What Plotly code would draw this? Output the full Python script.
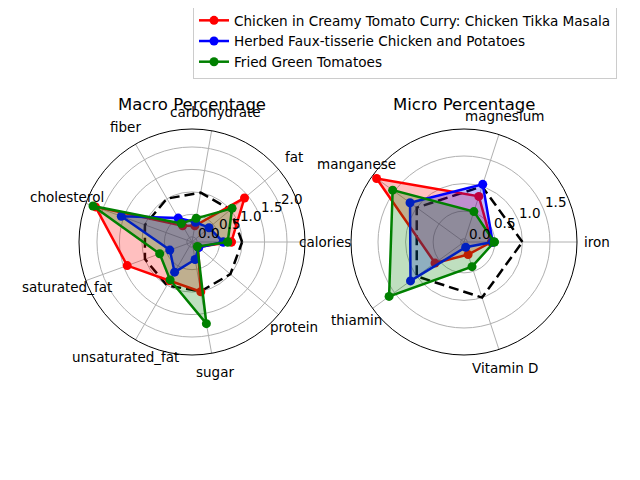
import math
import plotly.graph_objects as go

# ---- data ----
macro_categories = ["calories", "fat", "carbohydrate", "fiber", "cholesterol",
                    "saturated_fat", "unsaturated_fat", "sugar", "protein"]
micro_categories = ["iron", "magnesium", "manganese", "thiamin", "Vitamin D"]

recipe_names = ["Chicken in Creamy Tomato Curry: Chicken Tikka Masala",
                "Herbed Faux-tisserie Chicken and Potatoes",
                "Fried Green Tomatoes"]

macro_tikka = [0.76, 1.41, 0.25, 0.30, 2.17, 1.42, 0.88, 1.01, 0.06]
macro_herbed = [0.58, 0.38, 0.33, 0.50, 1.56, 0.41, 0.66, 0.28, 0.08]
macro_fried = [0.68, 1.05, 0.42, 0.36, 2.23, 0.65, 0.86, 1.73, 0.04]
macro_reference = [1.0] * 9

micro_tikka = [0.44, 0.81, 1.90, 0.59, 0.18]
micro_herbed = [0.46, 1.04, 1.15, 1.14, 0.04]
micro_fried = [0.49, 0.52, 1.54, 1.62, 0.41]
micro_reference = [1.0] * 5

macro_ticks = [0.0, 0.5, 1.0, 1.5, 2.0]
micro_ticks = [0.0, 0.5, 1.0, 1.5]

colors = ["red", "blue", "green"]
fills = ["rgba(255,0,0,0.25)", "rgba(0,0,255,0.25)", "rgba(0,128,0,0.25)"]

FONT = "DejaVu Sans"

# page body has an 8px margin: size the figure so it fills the 640x480 window
OFF = 8
W, H = 640 - OFF, 480 - OFF


def fx(px):
    return (px - OFF) / W


def fy(py):
    return 1 - (py - OFF) / H


fig = go.Figure()


def closed(vals):
    return list(vals) + [vals[0]]


def angles(n):
    a = [360.0 * i / n for i in range(n)]
    return a + [a[0]]


def add_chart(polar, cats, series, ref):
    th = angles(len(cats))
    fig.add_trace(go.Scatterpolar(
        r=closed(ref), theta=th, mode="lines", subplot=polar,
        line=dict(color="black", width=2.5, dash="10px,5px"),
        showlegend=False, hoverinfo="skip"))
    for name, vals, c, f in zip(recipe_names, series, colors, fills):
        fig.add_trace(go.Scatterpolar(
            r=closed(vals), theta=th, mode="lines+markers", subplot=polar,
            name=name, fill="toself", fillcolor=f,
            line=dict(color=c, width=2.5), marker=dict(color=c, size=9),
            showlegend=False))


add_chart("polar", macro_categories, [macro_tikka, macro_herbed, macro_fried],
          macro_reference)
add_chart("polar2", micro_categories, [micro_tikka, micro_herbed, micro_fried],
          micro_reference)

# legend-only entries (line + marker, like matplotlib)
for name, c in zip(recipe_names, colors):
    fig.add_trace(go.Scatterpolar(
        r=[None], theta=[None], mode="lines+markers", subplot="polar",
        name=name, line=dict(color=c, width=2.5), marker=dict(color=c, size=9),
        showlegend=True))

annotations = []
LABEL_ANGLE = 22.5


def polar_setup(cats, rng, ticks, left, right, top, bottom, title):
    n = len(cats)
    cx, cy = (left + right) / 2, (top + bottom) / 2
    R = (right - left) / 2
    # category labels centred just outside the circle (matplotlib style)
    for i, cat in enumerate(cats):
        a = math.radians(360.0 * i / n)
        annotations.append(dict(
            text=cat, x=fx(cx + (R + 19.5) * math.cos(a)),
            y=fy(cy - (R + 19.5) * math.sin(a)), xref="paper", yref="paper",
            showarrow=False, xanchor="center", yanchor="middle",
            font=dict(family=FONT, size=13.5, color="black")))
    # radial tick labels along the 22.5 degree direction
    a = math.radians(LABEL_ANGLE)
    for t in ticks:
        rp = (t - rng[0]) / (rng[1] - rng[0]) * R
        annotations.append(dict(
            text="%.1f" % t, x=fx(cx + rp * math.cos(a) + 12),
            y=fy(cy - rp * math.sin(a) - 7), xref="paper", yref="paper",
            showarrow=False, xanchor="center", yanchor="middle",
            font=dict(family=FONT, size=13.5, color="black")))
    annotations.append(dict(
        text=title, x=fx(cx), y=fy(104), xref="paper", yref="paper",
        showarrow=False, xanchor="center", yanchor="middle",
        font=dict(family=FONT, size=16.5, color="black")))
    return dict(
        domain=dict(x=[fx(left), fx(right)], y=[fy(bottom), fy(top)]),
        bgcolor="white",
        radialaxis=dict(range=rng, tickvals=ticks, showticklabels=False,
                        angle=LABEL_ANGLE, showline=False, ticks="",
                        gridcolor="#b0b0b0", gridwidth=1, layer="below traces"),
        angularaxis=dict(tickmode="array",
                         tickvals=[360.0 * i / n for i in range(n)],
                         showticklabels=False, direction="counterclockwise",
                         rotation=0, thetaunit="degrees", ticks="",
                         showline=True, linecolor="black", linewidth=1,
                         gridcolor="#b0b0b0", gridwidth=1, layer="below traces"),
    )


polar1 = polar_setup(macro_categories, [-0.115, 2.4], macro_ticks,
                     79, 305, 129, 355, "Macro Percentage")
polar2 = polar_setup(micro_categories, [-0.06, 1.99], micro_ticks,
                     351, 577, 129, 355, "Micro Percentage")

fig.update_layout(
    width=W, height=H,
    margin=dict(l=0, r=0, t=0, b=0, autoexpand=False),
    paper_bgcolor="white",
    font=dict(family=FONT, color="black"),
    polar=polar1,
    polar2=polar2,
    legend=dict(x=fx(193), y=fy(4), xanchor="left", yanchor="top",
                bgcolor="white", bordercolor="#cccccc", borderwidth=1,
                entrywidth=398, entrywidthmode="pixels",
                font=dict(family=FONT, size=13.6, color="black")),
    annotations=annotations,
)

fig.write_html("out.html")
